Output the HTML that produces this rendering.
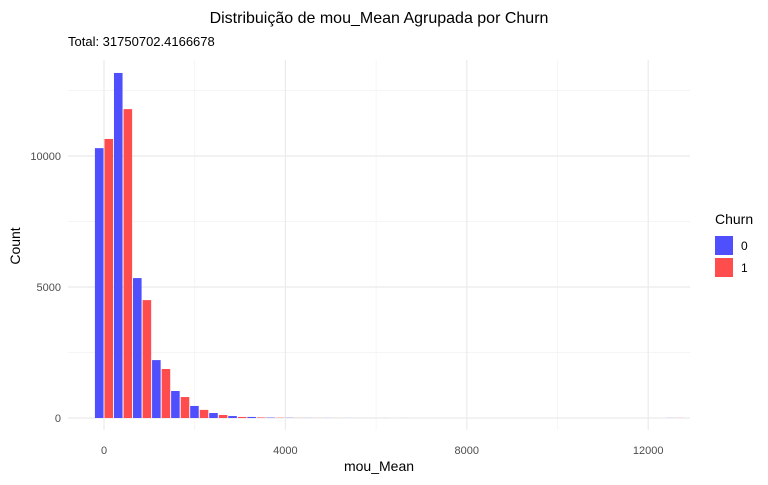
<!DOCTYPE html>
<html><head><meta charset="utf-8"><style>
body{margin:0;background:#fff;font-family:"Liberation Sans",sans-serif}
svg text{font-family:"Liberation Sans",sans-serif}
</style></head><body>
<svg width="768" height="480" id="c">
<text x="379" y="23" text-anchor="middle" font-size="16" fill="#000">Distribuição de mou_Mean Agrupada por Churn</text>
<text x="68" y="46" font-size="13" fill="#000">Total: 31750702.4166678</text>
<g id="grid"></g><g id="bars"></g><g id="axes"></g>
<text x="379" y="471" text-anchor="middle" font-size="14" fill="#000">mou_Mean</text>
<text transform="translate(20,246) rotate(-90)" text-anchor="middle" font-size="14" fill="#000">Count</text>
<text x="715" y="224" font-size="14" fill="#000">Churn</text>
<rect x="715" y="236" width="18" height="19" fill="#4f4ffd"/>
<text x="741" y="250" font-size="12" fill="#000">0</text>
<rect x="715" y="258" width="18" height="19" fill="#ff4d4d"/>
<text x="741" y="272" font-size="12" fill="#000">1</text>
</svg>
<script>
const binCenters=[0,420,840,1260,1680,2100,2520,2940,3360,3780,4200,4620,5040,5460,5880,6300,6720,7140,7560,7980,8400,8820,9240,9660,10080,10500,10920,11340,11760,12180,12600];
const churn0=[10300,13170,5340,2210,1030,460,190,75,40,15,8,4,3,2,1,1,1,0,0,0,0,0,0,0,0,0,0,0,0,0,3];
const churn1=[10650,11790,4500,1870,800,310,115,40,20,10,5,3,2,1,1,0,0,0,0,0,0,0,0,0,0,0,0,0,0,0,3];
const xTicks=[0,4000,8000,12000];
const xMinor=[2000,6000,10000];
const yTicks=[0,5000,10000];
const yMinor=[2500,7500,12500];
const binWidth=420;
const X=v=>104+v*0.04535, Y=v=>418-v*0.0262;
const NS="http://www.w3.org/2000/svg";
function mk(p,t,a){const e=document.createElementNS(NS,t);for(const k in a)e.setAttribute(k,a[k]);p.appendChild(e);return e;}
const g=document.getElementById('grid'),b=document.getElementById('bars'),ax=document.getElementById('axes');
xMinor.forEach(v=>{const l=mk(g,'line',{x1:X(v),x2:X(v),y1:60,y2:430,stroke:'#f2f2f2','stroke-width':0.7});

});
yMinor.forEach(v=>{const l=mk(g,'line',{x1:68,x2:690,y1:Y(v),y2:Y(v),stroke:'#f2f2f2','stroke-width':0.7});

});
xTicks.forEach(v=>{const l=mk(g,'line',{x1:X(v),x2:X(v),y1:60,y2:430,stroke:'#ebebeb','stroke-width':1.2});


const t=mk(ax,'text',{x:X(v),y:454,'text-anchor':'middle','font-size':11,fill:'#4d4d4d'});t.textContent=v;

});
yTicks.forEach(v=>{const l=mk(g,'line',{x1:68,x2:690,y1:Y(v),y2:Y(v),stroke:'#ebebeb','stroke-width':1.2});


const t=mk(ax,'text',{x:61,y:Y(v)+4,'text-anchor':'end','font-size':11,fill:'#4d4d4d'});t.textContent=v;

});
const pw=binWidth*0.04535*0.9/2;
binCenters.forEach((c,i)=>{
 const cx=X(c);
 const r0=mk(b,'rect',{x:cx-pw-0.5,y:Y(churn0[i]),width:pw,height:Y(0)-Y(churn0[i]),fill:'#4f4ffd'});
 
 
 const r1=mk(b,'rect',{x:cx+0.5,y:Y(churn1[i]),width:pw,height:Y(0)-Y(churn1[i]),fill:'#ff4d4d'});
 
 
});
</script>
</body></html>
